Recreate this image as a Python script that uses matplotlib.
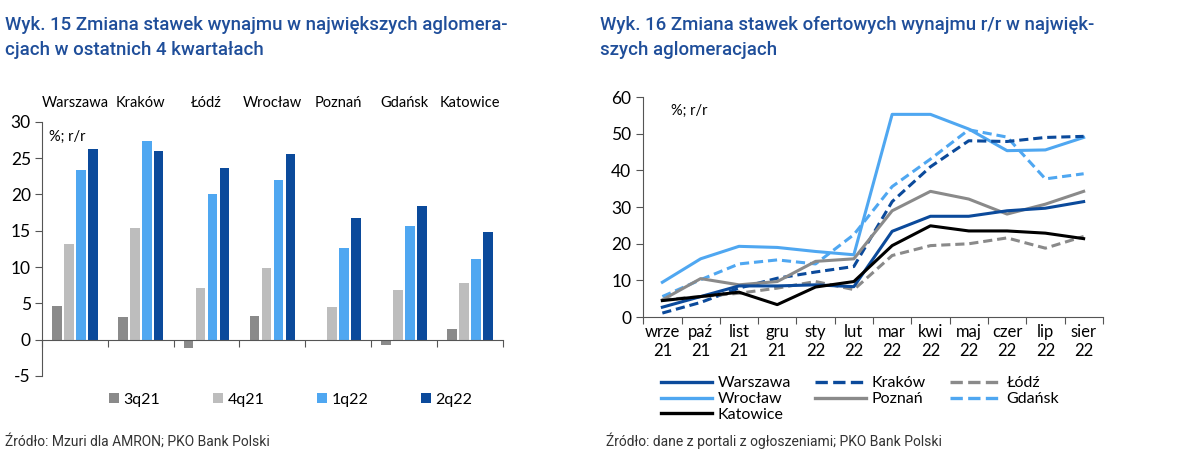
import numpy as np
import matplotlib
matplotlib.use("Agg")
import matplotlib.pyplot as plt
from matplotlib.lines import Line2D

plt.rcParams['font.family'] = ['Lato', 'DejaVu Sans']
plt.rcParams['axes.unicode_minus'] = False

# ---- data, chart 15 (bars)
cities = ["Warszawa", "Kraków", "Łódź", "Wrocław", "Poznań", "Gdańsk", "Katowice"]
q3_21 = [4.6, 3.1, -1.1, 3.2, -0.1, -0.7, 1.4]
q4_21 = [13.2, 15.4, 7.1, 9.9, 4.5, 6.8, 7.8]
q1_22 = [23.4, 27.4, 20.1, 22.0, 12.6, 15.7, 11.1]
q2_22 = [26.3, 26.0, 23.6, 25.6, 16.7, 18.4, 14.8]
quarters = ["3q21", "4q21", "1q22", "2q22"]

# ---- data, chart 16 (lines)
months = ["wrze\n21", "paź\n21", "list\n21", "gru\n21", "sty\n22", "lut\n22",
          "mar\n22", "kwi\n22", "maj\n22", "czer\n22", "lip\n22", "sier\n22"]
warszawa = [2.7, 5.6, 8.5, 8.5, 8.8, 8.3, 23.4, 27.5, 27.5, 29.0, 29.7, 31.5]
krakow = [1.1, 4.0, 7.9, 10.6, 12.3, 13.8, 31.5, 41.0, 48.1, 47.9, 49.0, 49.3]
lodz = [4.7, 5.6, 6.5, 7.9, 9.7, 7.5, 16.8, 19.5, 20.0, 21.6, 18.8, 22.0]
wroclaw = [9.5, 15.9, 19.3, 19.0, 17.9, 17.0, 55.3, 55.3, 51.3, 45.4, 45.6, 49.0]
poznan = [4.7, 10.5, 8.8, 9.7, 15.2, 15.9, 29.0, 34.3, 32.2, 28.1, 30.8, 34.3]
gdansk = [5.6, 10.2, 14.5, 15.6, 14.5, 22.5, 35.6, 43.1, 51.1, 49.1, 37.7, 39.1]
katowice = [4.5, 5.6, 6.8, 3.4, 8.2, 9.7, 19.5, 24.9, 23.5, 23.5, 22.9, 21.4]

DARK = '#0B4A9B'
LIGHT = '#4FA7F1'
GREY = '#8A8A8A'
LGREY = '#BDBDBD'
TITLE = '#1F4E9A'
narrow = ['Roboto', 'DejaVu Sans']

fig = plt.figure(figsize=(12, 4.67), dpi=100)

fig.text(0.004, 0.965, "Wyk. 15 Zmiana stawek wynajmu w największych aglomera-\ncjach w ostatnich 4 kwartałach",
         family=narrow, fontsize=13.4, fontweight='medium', color=TITLE, va='top', linespacing=1.5)
fig.text(0.5, 0.965, "Wyk. 16 Zmiana stawek ofertowych wynajmu r/r w najwięk-\nszych aglomeracjach",
         family=narrow, fontsize=13.4, fontweight='medium', color=TITLE, va='top', linespacing=1.5)
fig.text(0.004, 0.045, "Źródło: Mzuri dla AMRON; PKO Bank Polski", family=narrow, fontsize=10, color='#333333')
fig.text(0.505, 0.045, "Źródło: dane z portali z ogłoszeniami; PKO Bank Polski", family=narrow, fontsize=10, color='#333333')

# ---- left chart
ax = fig.add_axes([0.035, 0.195, 0.384, 0.544])
x = np.arange(len(cities))
cols = [GREY, LGREY, LIGHT, DARK]
for i, (vals, c, lab) in enumerate(zip([q3_21, q4_21, q1_22, q2_22], cols, quarters)):
    ax.bar(x + (i - 1.5) * 0.182, vals, width=0.145, color=c, label=lab)
ax.set_xlim(-0.5, len(cities) - 0.5)
ax.set_ylim(-5, 30)
ax.set_yticks(range(-5, 31, 5))
ax.spines[['top', 'right']].set_visible(False)
ax.spines['bottom'].set_position(('data', 0))
ax.set_xticks(np.arange(-0.5, len(cities), 1))
ax.set_xticklabels([])
ax.tick_params(axis='x', length=5, color='#555555')
ax.tick_params(axis='y', length=5, labelsize=12.5, color='#555555', pad=3)
for s in ['left', 'bottom']:
    ax.spines[s].set_color('#555555')
for i, c in enumerate(cities):
    ax.text(i, 1.045, c, transform=ax.get_xaxis_transform(), ha='center', va='bottom', fontsize=10.5)
ax.text(0.015, 0.97, "%; r/r", transform=ax.transAxes, fontsize=10.5, va='top')
ax.legend(loc='upper center', bbox_to_anchor=(0.54, -0.01), ncol=4, frameon=False,
          fontsize=11.5, handlelength=0.6, handleheight=0.6, handletextpad=0.3,
          columnspacing=3.3)

# ---- right chart
ax2 = fig.add_axes([0.536, 0.321, 0.383, 0.471])
m = np.arange(len(months))
series = [
    (warszawa, "Warszawa", DARK, '-'),
    (wroclaw, "Wrocław", LIGHT, '-'),
    (katowice, "Katowice", 'black', '-'),
    (krakow, "Kraków", DARK, '--'),
    (poznan, "Poznań", GREY, '-'),
    (lodz, "Łódź", GREY, '--'),
    (gdansk, "Gdańsk", LIGHT, '--'),
]
draw_order = [1, 6, 3, 4, 5, 0, 2]
handles = []
for k in draw_order:
    vals, lab, c, ls = series[k]
    ax2.plot(m, vals, color=c, linestyle=ls, lw=2.2, dashes=(3, 1.6) if ls == '--' else (None, None))
for vals, lab, c, ls in series:
    handles.append(Line2D([], [], color=c, lw=2.4, linestyle=ls, label=lab))
ax2.set_xlim(-0.5, len(months) - 0.5)
ax2.set_ylim(0, 60)
ax2.set_yticks(range(0, 61, 10))
ax2.set_xticks(np.arange(-0.5, len(months), 1))
ax2.set_xticklabels([])
ax2.set_xticks(m, minor=True)
ax2.set_xticklabels(months, minor=True, fontsize=12)
ax2.tick_params(axis='x', which='minor', length=0, pad=5)
ax2.tick_params(axis='x', which='major', length=5, color='#555555')
ax2.tick_params(axis='y', length=5, labelsize=12.5, color='#555555')
ax2.spines[['top', 'right']].set_visible(False)
for s in ['left', 'bottom']:
    ax2.spines[s].set_color('#555555')
ax2.text(0.06, 0.97, "%; r/r", transform=ax2.transAxes, fontsize=10.5, va='top')
ax2.legend(handles=handles, loc='upper left', bbox_to_anchor=(0.025, -0.24), ncol=3,
           frameon=False, fontsize=11.5, handlelength=3.2, handletextpad=0.35,
           columnspacing=1.5, labelspacing=0.1, borderaxespad=0)

fig.savefig("out.png", dpi=100)
